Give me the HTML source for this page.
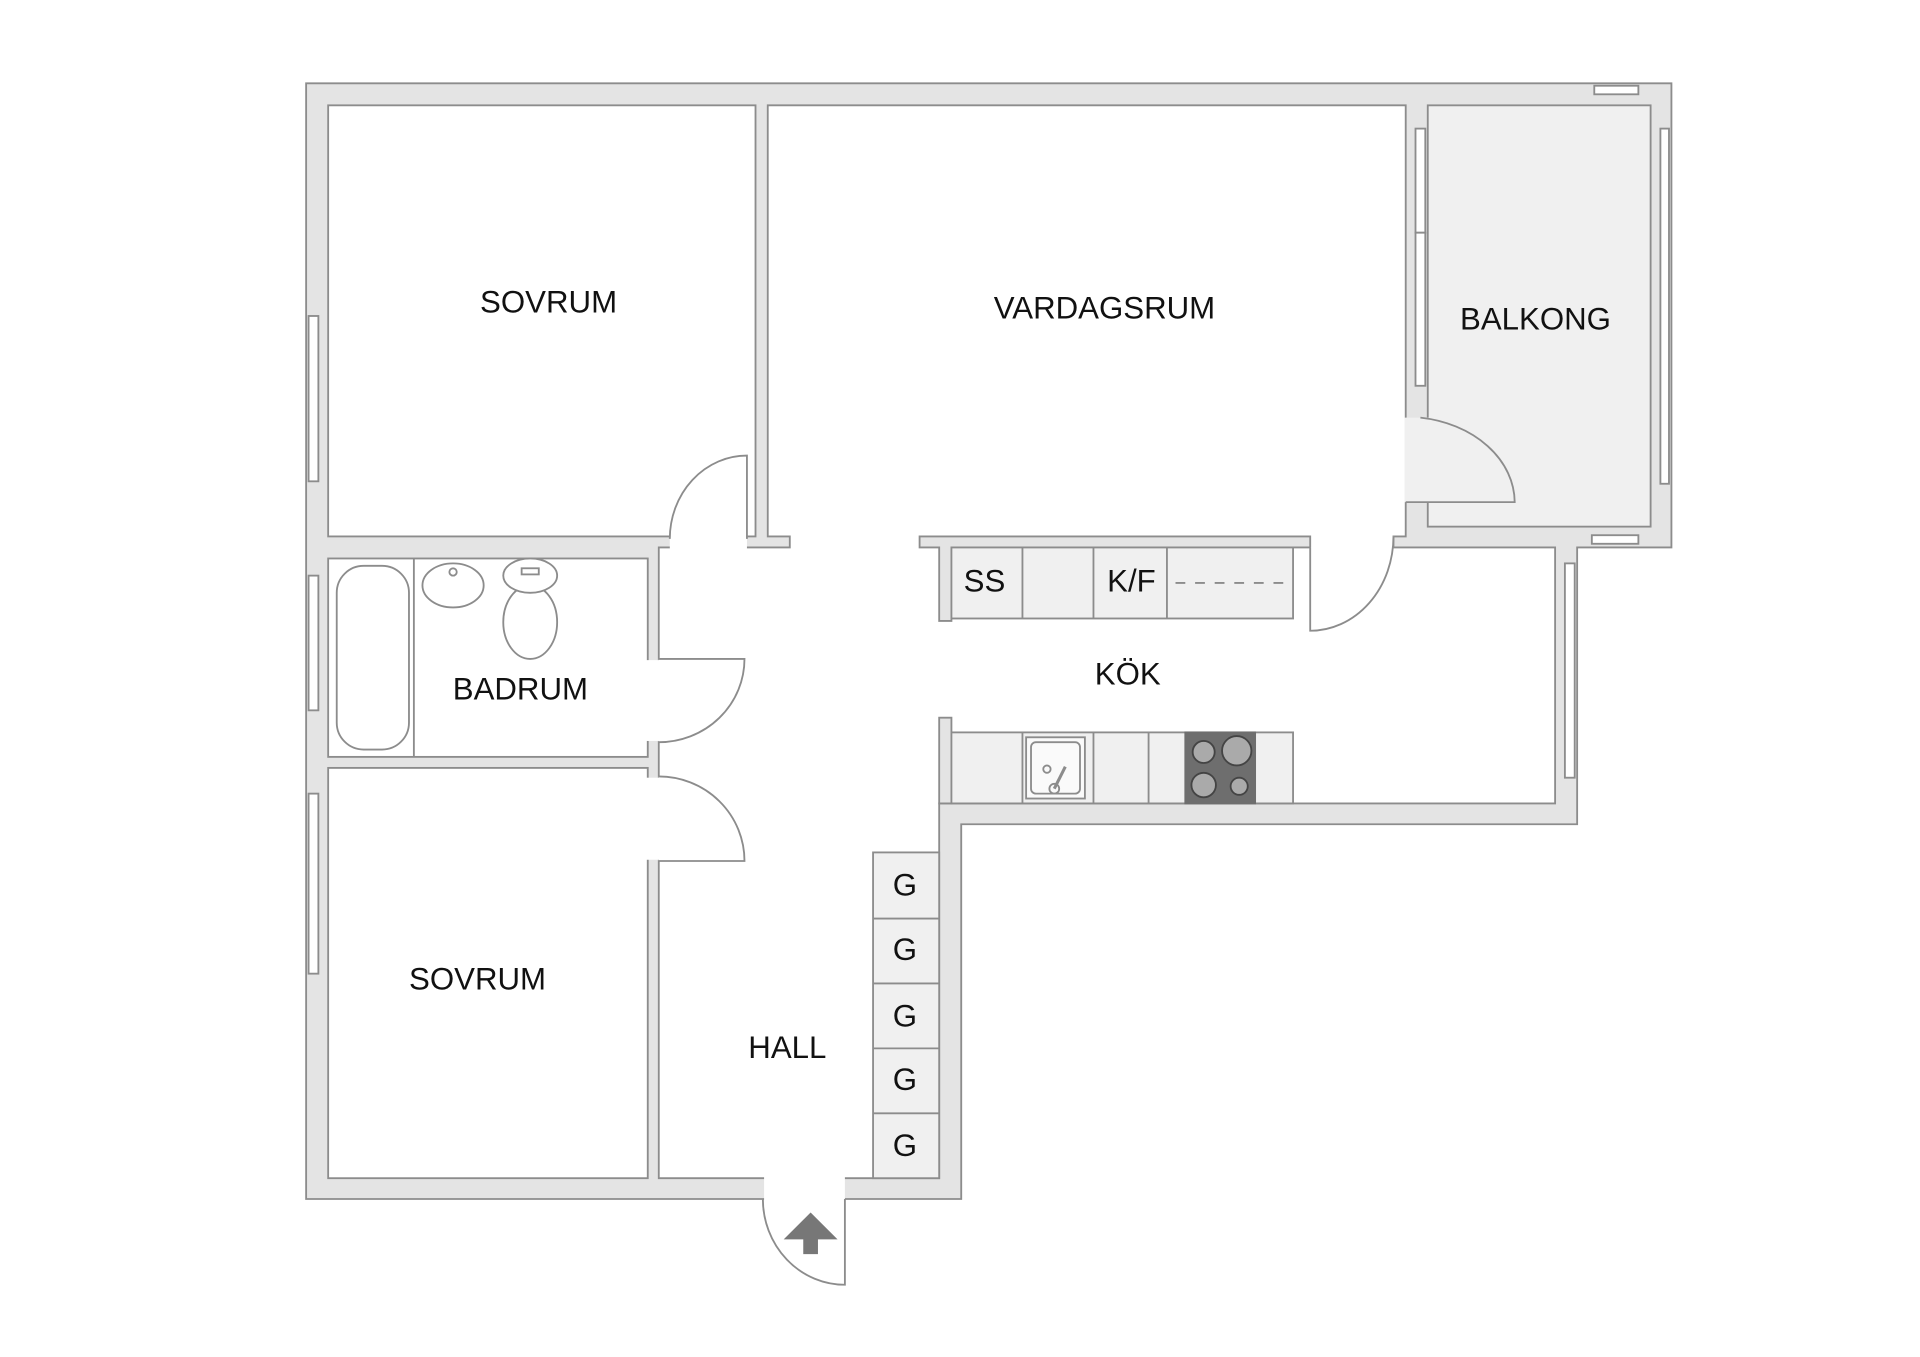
<!DOCTYPE html>
<html><head><meta charset="utf-8"><style>
html,body{margin:0;padding:0;background:#fff;}
svg{display:block}
text{font-family:"Liberation Sans",sans-serif;fill:#111;text-anchor:middle;}
</style></head><body>
<svg width="1920" height="1357" viewBox="0 0 1568 1108" preserveAspectRatio="none">
<g stroke="#8c8c8c" stroke-width="1.5">
<polygon points="250,68 1365,68 1365,447 1288,447 1288,673 785,673 785,979 250,979" fill="#e4e4e4"/>
<rect x="268" y="86" width="349" height="352" fill="#fff"/>
<polygon points="627,86 1148,86 1148,438 1138,438 1138,447 1270,447 1270,656 767,656 767,962 538,962 538,447 645,447 645,438 627,438" fill="#fff"/>
<rect x="1166" y="86" width="182" height="344" fill="#f0f0f0"/>
<rect x="268" y="456" width="261" height="162" fill="#fff"/>
<rect x="268" y="627" width="261" height="335" fill="#fff"/>
</g>
<g fill="#fff">
<rect x="547" y="437" width="63" height="11"/>
<rect x="527" y="539" width="13" height="66"/>
<rect x="527" y="635" width="13" height="67"/>
<rect x="624" y="960" width="66" height="21"/>
<rect x="1071" y="437" width="66" height="11"/>
</g>
<rect x="1147" y="341" width="20" height="69" fill="#f0f0f0"/>
<g stroke="#8c8c8c" stroke-width="1.5" fill="none">
<polygon points="751,438 1070,438 1070,447 777,447 777,507 767,507 767,447 751,447" fill="#e4e4e4"/>
<rect x="767" y="586" width="10" height="70" fill="#e4e4e4"/>
<rect x="777" y="447" width="279" height="58" fill="#f0f0f0"/>
<line x1="835" y1="447" x2="835" y2="505"/><line x1="893" y1="447" x2="893" y2="505"/><line x1="953" y1="447" x2="953" y2="505"/>
<line x1="960" y1="476" x2="1056" y2="476" stroke-dasharray="8,8"/>
<rect x="777" y="598" width="279" height="58" fill="#f0f0f0"/>
<line x1="835" y1="598" x2="835" y2="656"/><line x1="893" y1="598" x2="893" y2="656"/><line x1="938" y1="598" x2="938" y2="656"/>
<rect x="968" y="598" width="57" height="58" fill="#6e6e6e" stroke="#6e6e6e"/>
<rect x="838" y="602" width="48" height="50" fill="#fafafa"/>
<rect x="842" y="606" width="40" height="42" rx="4"/>
<circle cx="855" cy="628" r="3"/><circle cx="861" cy="644" r="4"/><line x1="861" y1="644" x2="870" y2="626" stroke-width="2.5"/>
<g stroke="#444" fill="#aaa"><circle cx="983" cy="614" r="9"/><circle cx="1010" cy="613" r="12"/><circle cx="983" cy="641" r="10"/><circle cx="1012" cy="642" r="7"/></g>
<rect x="713" y="696" width="54" height="266" fill="#f0f0f0"/>
<line x1="713" y1="750" x2="767" y2="750"/><line x1="713" y1="803" x2="767" y2="803"/><line x1="713" y1="856" x2="767" y2="856"/><line x1="713" y1="909" x2="767" y2="909"/>
<path d="M610,440 L610,372 A63,68 0 0 0 547,440" fill="#fff"/>
<path d="M538,538 L608,538 A70,68 0 0 1 538,606" fill="#fff"/>
<path d="M538,634 A70,69 0 0 1 608,703 L538,703" fill="#fff"/>
<path d="M1070,447 L1070,515 A68,77 0 0 0 1138,438" fill="#fff"/>
<path d="M1148,410 L1237,410 A89,70 0 0 0 1160,341"/>
<path d="M690,979 L690,1049 A67,70 0 0 1 623,979"/>
<line x1="338" y1="456" x2="338" y2="618"/>
<rect x="275" y="462" width="59" height="150" rx="22" fill="#fff"/>
<ellipse cx="370" cy="478" rx="25" ry="18"/>
<circle cx="370" cy="467" r="3"/>
<ellipse cx="433" cy="508" rx="22" ry="30"/>
<ellipse cx="433" cy="470" rx="22" ry="14" fill="#fff"/>
<rect x="426" y="464" width="14" height="5"/>
<g fill="#fff">
<rect x="252" y="258" width="8" height="135"/><rect x="252" y="470" width="8" height="110"/><rect x="252" y="648" width="8" height="147"/>
<rect x="1156" y="105" width="8" height="85"/><rect x="1156" y="190" width="8" height="125"/>
<rect x="1356" y="105" width="7" height="290"/>
<rect x="1302" y="70" width="36" height="7"/><rect x="1300" y="437" width="38" height="7"/>
<rect x="1278" y="460" width="8" height="175"/>
</g>
</g>
<polygon points="662,990 684,1012 668,1012 668,1024 656,1024 656,1012 640,1012" fill="#777"/>
<g font-size="25.5">
<text x="448" y="255">SOVRUM</text>
<text x="902" y="260">VARDAGSRUM</text>
<text x="1254" y="269">BALKONG</text>
<text x="425" y="571">BADRUM</text>
<text x="390" y="808">SOVRUM</text>
<text x="643" y="864">HALL</text>
<text x="921" y="559">KÖK</text>
<text x="804" y="483">SS</text>
<text x="924" y="483">K/F</text>
<text x="739" y="731">G</text><text x="739" y="784">G</text><text x="739" y="838">G</text><text x="739" y="890">G</text><text x="739" y="944">G</text>
</g>
</svg>
</body></html>
